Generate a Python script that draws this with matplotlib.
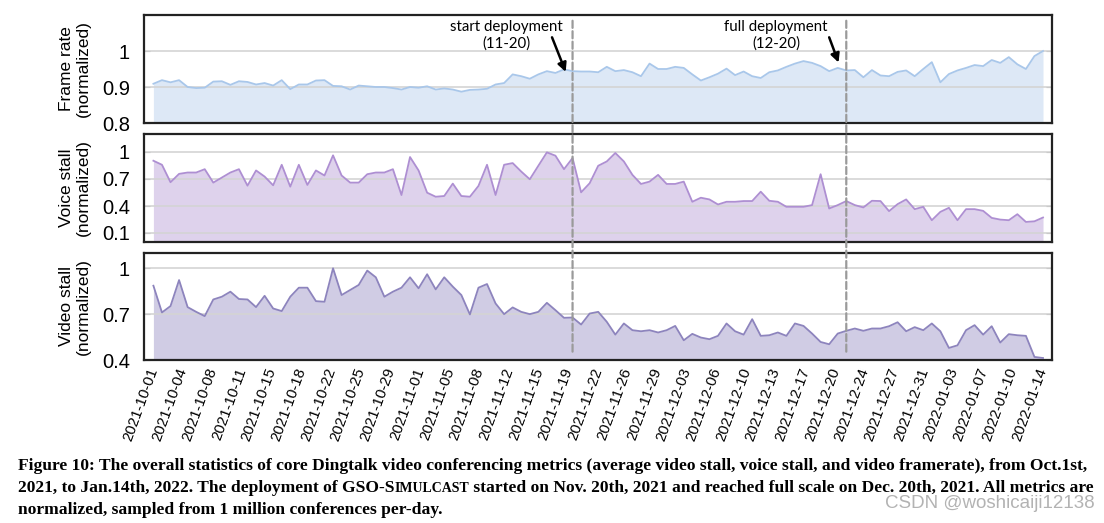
import numpy as np
import matplotlib
matplotlib.use("Agg")
import matplotlib.pyplot as plt
from matplotlib.patches import ConnectionPatch

# ---------------- data ----------------
frame_rate = [0.909, 0.919, 0.913, 0.919, 0.900, 0.897, 0.898, 0.915, 0.916, 0.906,
              0.916, 0.914, 0.907, 0.911, 0.904, 0.919, 0.894, 0.907, 0.907, 0.918,
              0.919, 0.903, 0.902, 0.893, 0.904, 0.902, 0.900, 0.900, 0.897, 0.893,
              0.900, 0.898, 0.902, 0.893, 0.896, 0.893, 0.887, 0.892, 0.893, 0.895,
              0.907, 0.911, 0.935, 0.930, 0.923, 0.935, 0.944, 0.939, 0.949, 0.944,
              0.943, 0.943, 0.941, 0.956, 0.944, 0.947, 0.941, 0.930, 0.965, 0.950,
              0.950, 0.956, 0.953, 0.935, 0.918, 0.927, 0.937, 0.951, 0.933, 0.943,
              0.930, 0.925, 0.941, 0.946, 0.956, 0.965, 0.972, 0.967, 0.958, 0.944,
              0.953, 0.946, 0.947, 0.927, 0.947, 0.932, 0.930, 0.942, 0.946, 0.930,
              0.950, 0.969, 0.913, 0.936, 0.946, 0.953, 0.961, 0.958, 0.975, 0.967,
              0.983, 0.963, 0.950, 0.986, 1.000]

voice_stall = [0.903, 0.858, 0.664, 0.757, 0.772, 0.772, 0.809, 0.660, 0.716, 0.772,
               0.809, 0.626, 0.795, 0.727, 0.630, 0.858, 0.615, 0.858, 0.634, 0.795,
               0.739, 0.963, 0.739, 0.660, 0.660, 0.753, 0.772, 0.772, 0.809, 0.522,
               0.944, 0.795, 0.548, 0.503, 0.511, 0.649, 0.511, 0.503, 0.623, 0.858,
               0.522, 0.858, 0.877, 0.783, 0.697, 0.847, 0.996, 0.959, 0.809, 0.933,
               0.552, 0.653, 0.847, 0.895, 0.989, 0.895, 0.746, 0.645, 0.671, 0.746,
               0.645, 0.645, 0.671, 0.447, 0.492, 0.473, 0.417, 0.447, 0.447, 0.455,
               0.455, 0.559, 0.458, 0.447, 0.391, 0.391, 0.391, 0.410, 0.753, 0.372,
               0.410, 0.455, 0.410, 0.384, 0.458, 0.455, 0.343, 0.421, 0.473, 0.365,
               0.391, 0.242, 0.335, 0.380, 0.242, 0.365, 0.365, 0.346, 0.268, 0.249,
               0.242, 0.309, 0.223, 0.230, 0.272]

video_stall = [0.886, 0.711, 0.753, 0.923, 0.746, 0.715, 0.687, 0.796, 0.814, 0.847,
               0.799, 0.796, 0.746, 0.820, 0.737, 0.720, 0.814, 0.873, 0.873, 0.785,
               0.781, 1.000, 0.825, 0.858, 0.891, 0.985, 0.941, 0.814, 0.847, 0.873,
               0.941, 0.869, 0.961, 0.862, 0.941, 0.880, 0.825, 0.698, 0.873, 0.897,
               0.770, 0.700, 0.744, 0.715, 0.700, 0.715, 0.774, 0.726, 0.676, 0.678,
               0.632, 0.704, 0.715, 0.650, 0.566, 0.639, 0.595, 0.588, 0.595, 0.580,
               0.595, 0.623, 0.529, 0.571, 0.547, 0.536, 0.558, 0.639, 0.588, 0.566,
               0.667, 0.558, 0.562, 0.580, 0.558, 0.639, 0.623, 0.573, 0.518, 0.503,
               0.573, 0.591, 0.606, 0.591, 0.606, 0.606, 0.621, 0.647, 0.588, 0.615,
               0.595, 0.639, 0.588, 0.479, 0.496, 0.595, 0.628, 0.566, 0.621, 0.514,
               0.569, 0.562, 0.558, 0.420, 0.413]

date_labels = ["2021-10-01", "2021-10-04", "2021-10-08", "2021-10-11", "2021-10-15",
               "2021-10-18", "2021-10-22", "2021-10-25", "2021-10-29", "2021-11-01",
               "2021-11-05", "2021-11-08", "2021-11-12", "2021-11-15", "2021-11-19",
               "2021-11-22", "2021-11-26", "2021-11-29", "2021-12-03", "2021-12-06",
               "2021-12-10", "2021-12-13", "2021-12-17", "2021-12-20", "2021-12-24",
               "2021-12-27", "2021-12-31", "2022-01-03", "2022-01-07", "2022-01-10",
               "2022-01-14"]

panel_labels = ["Frame rate\n(normalized)", "Voice stall\n(normalized)", "Video stall\n(normalized)"]
panel_ticks = [[0.8, 0.9, 1.0], [0.1, 0.4, 0.7, 1.0], [0.4, 0.7, 1.0]]
panel_ticklabels = [["0.8", "0.9", "1"], ["0.1", "0.4", "0.7", "1"], ["0.4", "0.7", "1"]]
panel_ylims = [(0.8, 1.1), (0.0, 1.2), (0.4, 1.1)]

# deployment events (index into the daily series)
events = [("start deployment\n(11-20)", 49), ("full deployment\n(12-20)", 81)]

caption_line1 = ("Figure 10: The overall statistics of core Dingtalk video conferencing metrics "
                 "(average video stall, voice stall, and video framerate), from Oct.1st,")
caption_line2 = ["2021, to Jan.14th, 2022. The deployment of GSO-S", "IMULCAST",
                 " started on Nov. 20th, 2021 and reached full scale on Dec. 20th, 2021. All metrics are"]
caption_line3 = "normalized, sampled from 1 million conferences per-day."
watermark = "CSDN @woshicaiji12138"

# ---------------- style ----------------
fill_colors = ["#dde8f6", "#ded2ec", "#d0cce4"]
line_colors = ["#a9c7ea", "#ae8fd2", "#8d84bd"]

W, H = 1104, 523
fig = plt.figure(figsize=(W / 100, H / 100), dpi=100)
plt.rcParams['font.family'] = ['Liberation Sans', 'DejaVu Sans']

left, right = 144 / W, 1052 / W
boxes = [(15, 123), (134, 242), (253, 360)]
series = [frame_rate, voice_stall, video_stall]
n = len(frame_rate)
x = np.arange(n)

axes = []
for k, (top, bot) in enumerate(boxes):
    ax = fig.add_axes([left, 1 - bot / H, right - left, (bot - top) / H])
    y = np.array(series[k])
    lo, hi = panel_ylims[k]
    ax.fill_between(x, lo, y, color=fill_colors[k], lw=0, zorder=1)
    ax.plot(x, y, color=line_colors[k], lw=1.3, zorder=3)
    ax.set_xlim(-1.1, n - 1 + 1.05)
    ax.set_ylim(lo, hi)
    ax.set_yticks(panel_ticks[k])
    ax.set_yticklabels(panel_ticklabels[k], fontsize=14.5)
    for t in panel_ticks[k]:
        if t > lo:
            ax.axhline(t, color="#d4d4d4", lw=1.2, zorder=2)
    ax.tick_params(axis='y', direction='in', length=4, color='#999999', pad=10,
                   right=True, left=True)
    ax.set_ylabel(panel_labels[k], fontsize=12.5, labelpad=8, linespacing=1.2)
    for s in ax.spines.values():
        s.set_linewidth(1.6)
        s.set_color('#222222')
    ax.set_xticks([])
    axes.append(ax)

fig.align_ylabels(axes)

ax3 = axes[2]
ax3.set_xticks(np.linspace(0, n - 1, len(date_labels)))
ax3.set_xticklabels(date_labels, rotation=70, ha='right', va='center',
                    rotation_mode='anchor', fontsize=10.8)
ax3.tick_params(axis='x', length=0, pad=6)

# deployment lines and annotations
ax1 = axes[0]
for text, ev in events:
    con = ConnectionPatch(xyA=(ev, 1.084), coordsA=ax1.transData,
                          xyB=(ev, 0.433), coordsB=ax3.transData,
                          color='#9a9a9a', lw=1.6, linestyle=(0, (3.2, 1.5)), zorder=10)
    fig.add_artist(con)
for (text, ev), tx, tail, head in zip(events, [-7.7, -8.2], [(-2.4, 1.038), (-2.0, 1.038)],
                                      [(-0.8, 0.942), (-0.9, 0.968)]):
    ax1.text(ev + tx, 1.044, text, ha='center', va='center', fontsize=10.8,
             family=['Lato', 'DejaVu Sans'], linespacing=1.2, zorder=11)
    ax1.annotate('', xy=(ev + head[0], head[1]), xytext=(ev + tail[0], tail[1]),
                 arrowprops=dict(arrowstyle='-|>', color='black', lw=1.8, mutation_scale=13,
                                 shrinkA=0, shrinkB=0), zorder=11)

# caption
cap_font = dict(family=['Liberation Serif', 'DejaVu Serif'], weight='bold', fontsize=12.6)
sc = dict(cap_font)
sc['fontsize'] = 10.0
fig.text(18 / W, 1 - 470 / H, caption_line1, ha='left', va='baseline', **cap_font)
y2 = 1 - 492 / H
t = fig.text(18 / W, y2, caption_line2[0], ha='left', va='baseline', **cap_font)
t = fig.add_artist(plt.Annotation(caption_line2[1], xy=(1, y2), xycoords=(t, 'figure fraction'),
                                  ha='left', va='baseline', annotation_clip=False, **sc))
t = fig.add_artist(plt.Annotation(caption_line2[2], xy=(1, y2), xycoords=(t, 'figure fraction'),
                                  ha='left', va='baseline', annotation_clip=False, **cap_font))
fig.text(18 / W, 1 - 514 / H, caption_line3, ha='left', va='baseline', **cap_font)
fig.text(1095 / W, 1 - 503 / H, watermark, ha='right', va='center', fontsize=13.5,
         color='#b3b3b3')

fig.savefig("out.png", dpi=100)
